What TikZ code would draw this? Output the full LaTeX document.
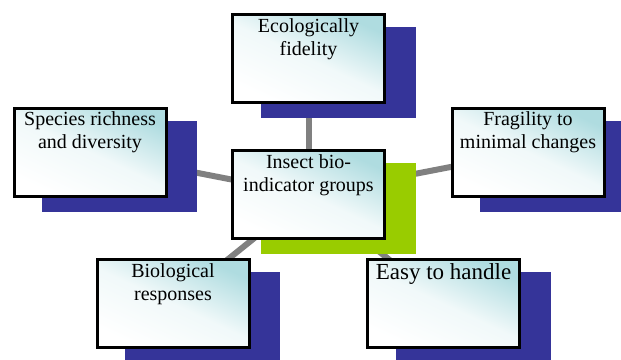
\documentclass[tikz,border=0pt]{standalone}
\usepackage{fontspec}
\setmainfont{Liberation Serif}
\usetikzlibrary{calc}
\definecolor{shadowblue}{RGB}{53,52,153}
\definecolor{shadowgreen}{RGB}{153,204,0}
\definecolor{boxcyan}{RGB}{175,220,224}
\definecolor{linkgray}{RGB}{128,128,128}
\tikzset{
  box/.style={draw=black, line width=3pt, minimum width=152pt, minimum height=88pt,
    inner sep=0pt, top color=boxcyan, bottom color=white, middle color=white!82!boxcyan, shading angle=-25},
  shadowbox/.style={minimum width=155pt, minimum height=91pt, inner sep=0pt, draw=none},
  lbl/.style={anchor=north, inner sep=0pt, align=center, font=\fontsize{20}{23}\selectfont},
  biglbl/.style={anchor=north, inner sep=0pt, align=center, font=\fontsize{23}{26}\selectfont},
  link/.style={draw=linkgray, line width=6pt}
}
\begin{document}
\begin{tikzpicture}[x=1pt,y=-1pt]
\useasboundingbox (0,0) rectangle (621,359);
% box centres
\coordinate (ecoc) at (308.5,58.5);
\coordinate (spec) at (90,152);
\coordinate (fragc) at (528,152);
\coordinate (hubc) at (308.5,194.5);
\coordinate (bioc) at (173,303.5);
\coordinate (easyc) at (443.5,303.5);
% connectors
\draw[link] (hubc) -- (ecoc);
\draw[link] (hubc) -- (spec);
\draw[link] (hubc) -- (fragc);
\draw[link] (hubc) -- (bioc);
\draw[link] (hubc) -- (easyc);
% shadows
\node[shadowbox, fill=shadowblue] (ecos) at ($(ecoc)+(29.5,14)$) {};
\node[shadowbox, fill=shadowblue] (specs) at ($(spec)+(29.5,14)$) {};
\node[shadowbox, fill=shadowblue] (frags) at ($(fragc)+(29.5,14)$) {};
\node[shadowbox, fill=shadowgreen] (hubs) at ($(hubc)+(29.5,14)$) {};
\node[shadowbox, fill=shadowblue] (bios) at ($(bioc)+(29.5,14)$) {};
\node[shadowbox, fill=shadowblue] (easys) at ($(easyc)+(29.5,14)$) {};
% boxes
\node[box] (eco) at (ecoc) {};
\node[box] (spe) at (spec) {};
\node[box] (frag) at (fragc) {};
\node[box] (hub) at (hubc) {};
\node[box] (bio) at (bioc) {};
\node[box] (easy) at (easyc) {};
% labels
\node[lbl] (ecol) at ($(eco.north)+(0,5.5)$) {Ecologically\\fidelity};
\node[lbl] (spel) at ($(spe.north)+(0,5)$) {Species richness\\and diversity};
\node[lbl] (fragl) at ($(frag.north)+(0,5)$) {Fragility to\\minimal changes};
\node[lbl] (hubl) at ($(hub.north)+(0,5)$) {Insect bio-\\indicator groups};
\node[lbl] (biol) at ($(bio.north)+(0,5.5)$) {Biological\\responses};
\node[biglbl] (easyl) at ($(easy.north)+(0,5.5)$) {Easy to handle};
\end{tikzpicture}
\end{document}
